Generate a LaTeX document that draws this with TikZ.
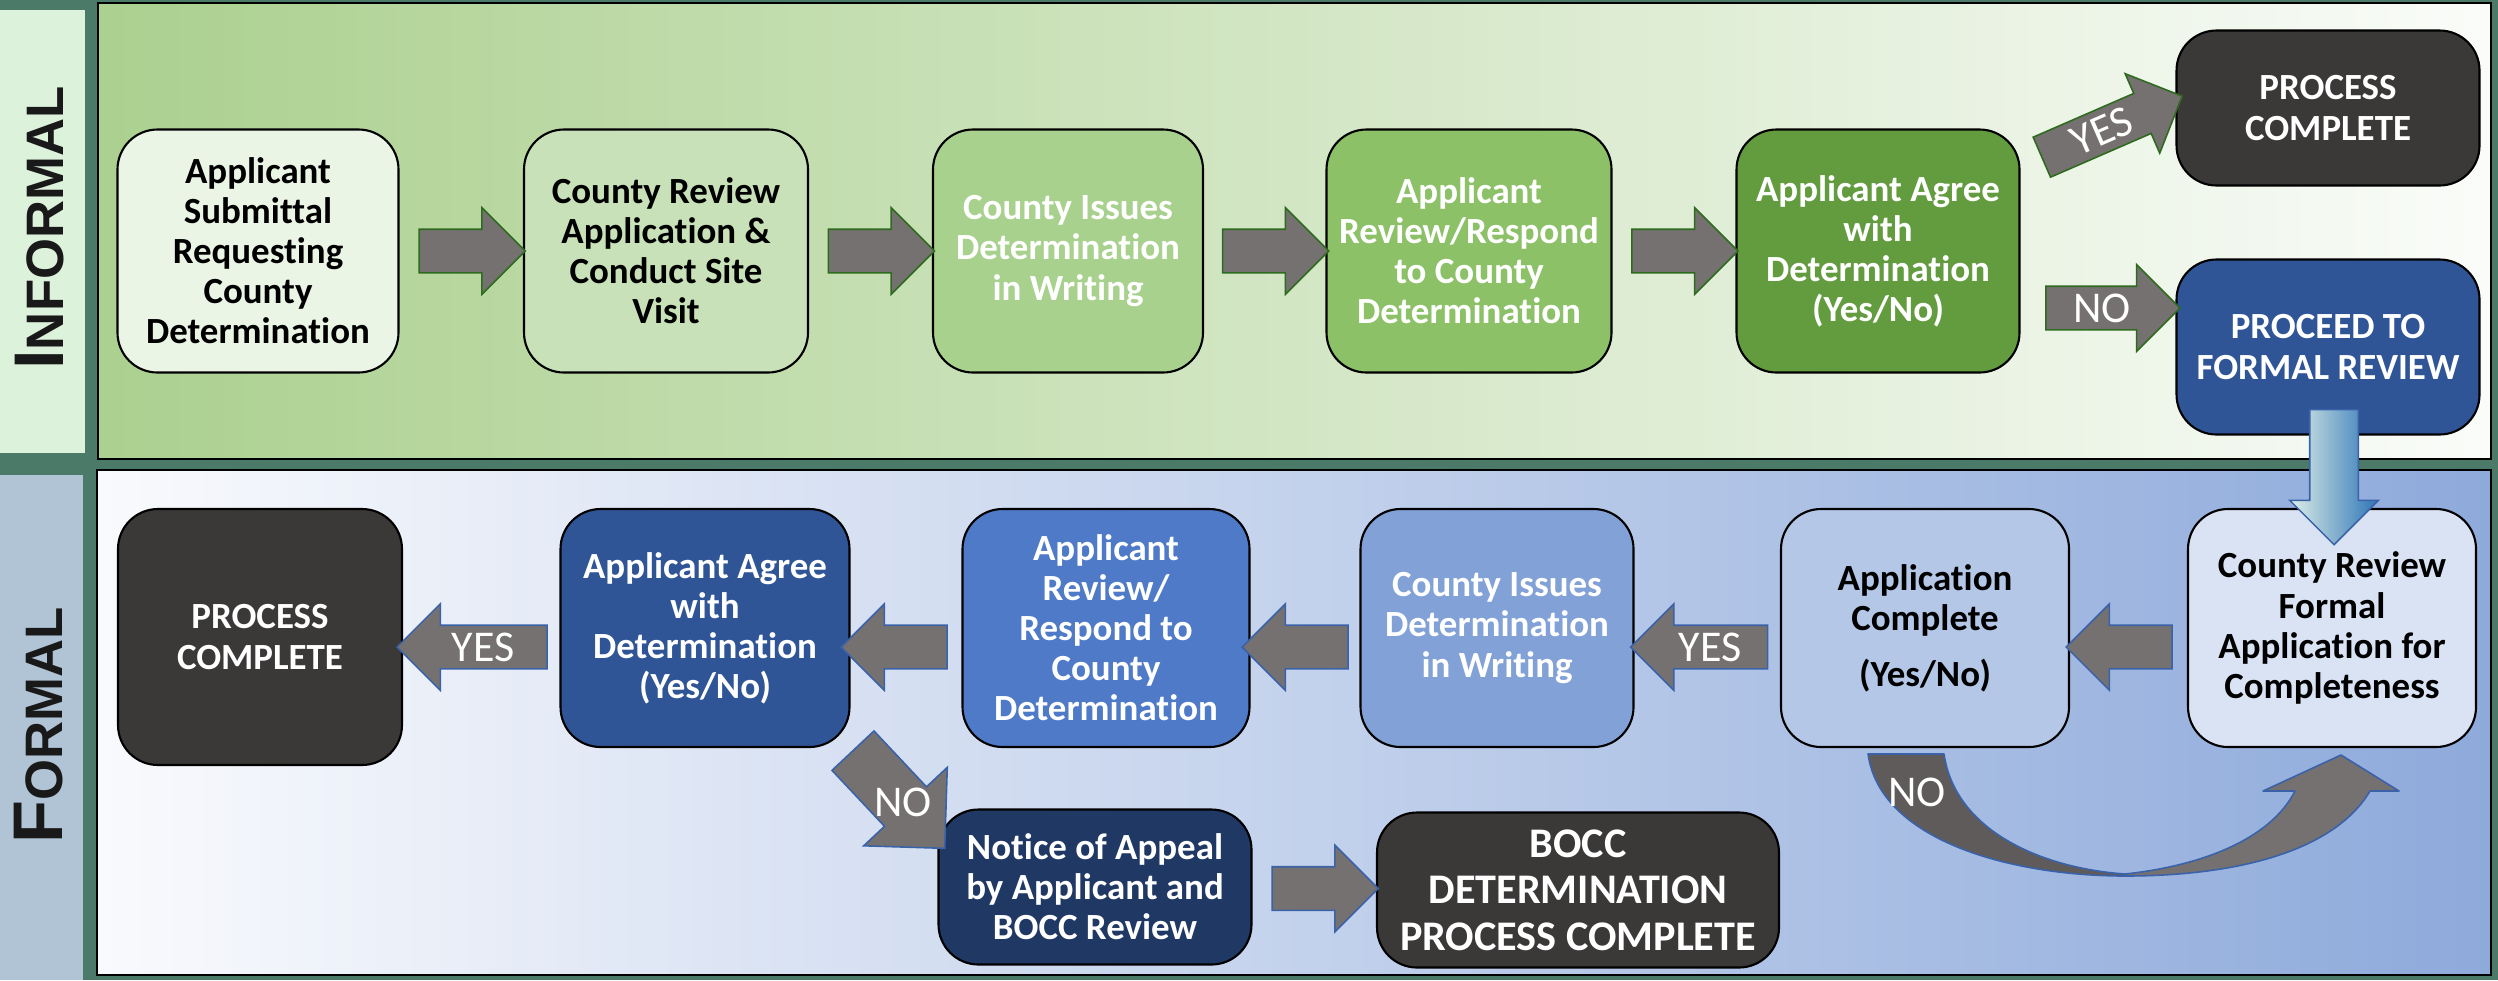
\documentclass[tikz,border=0pt]{standalone}
\usepackage{fontspec}
\setmainfont{Carlito}[Ligatures=NoCommon]
\newfontfamily\tagfont{Liberation Sans}
\usetikzlibrary{shapes.arrows, calc, positioning}

\definecolor{gapgreen}{HTML}{4B7A68}
\definecolor{bandgreen}{HTML}{DCF2DA}
\definecolor{bandblue}{HTML}{B0C4D6}
\definecolor{infleft}{HTML}{ABD08F}
\definecolor{infright}{HTML}{FAFCF9}
\definecolor{forleft}{HTML}{F9FAFD}
\definecolor{forright}{HTML}{8EAADB}
\definecolor{csubmit}{HTML}{EBF5E6}
\definecolor{creview}{HTML}{C8E1B8}
\definecolor{cissue}{HTML}{A9D18E}
\definecolor{crespond}{HTML}{8CC168}
\definecolor{cagree}{HTML}{629C3F}
\definecolor{cdone}{HTML}{3B3838}
\definecolor{cproceed}{HTML}{2F5597}
\definecolor{fcreview}{HTML}{DAE3F3}
\definecolor{fccomplete}{HTML}{B4C7E7}
\definecolor{fcissue}{HTML}{82A1D6}
\definecolor{fcrespond}{HTML}{4E7AC7}
\definecolor{fcappeal}{HTML}{203864}
\definecolor{arrgray}{HTML}{767171}
\definecolor{arrdark}{HTML}{5F5B5B}
\definecolor{arrgreen}{HTML}{2E6B1F}
\definecolor{arrblue}{HTML}{3A62A8}
\definecolor{gradtop}{HTML}{DDEEE8}
\definecolor{gradbot}{HTML}{2E75B6}

\newcommand{\boxfont}{\fontsize{10.5}{11.4}\selectfont\bfseries}
\newcommand{\bigboxfont}{\fontsize{12}{13.2}\selectfont\bfseries}
\newcommand{\lblfont}{\fontsize{12.5}{13}\selectfont}

\tikzset{
  box/.style={draw=black, line width=0.6pt, rounded corners=4mm, align=center,
    inner sep=1mm, font=\boxfont, minimum height=24.3mm},
  wbox/.style={box, text=white},
  barrow/.style={single arrow, line width=0.45pt, fill=arrgray, text=white,
    single arrow head extend=2.15mm, single arrow tip angle=90,
    minimum width=8.5mm, minimum height=10.6mm, inner sep=0pt,
    text height=3.5mm, text depth=0.7mm, font=\lblfont},
  grnarrow/.style={barrow, draw=arrgreen},
  bluarrow/.style={barrow, draw=arrblue},
  lbl/.style={text=white, font=\lblfont, inner sep=0pt},
}

\begin{document}
\begin{tikzpicture}[x=0.1mm, y=-0.1mm]
    \useasboundingbox (0,0) rectangle (2498,980);

    % Hintergrund und Felder
    \fill[gapgreen] (0,0) rectangle (2498,980);
    \fill[bandgreen] (0,10) rectangle (85,453);
    \fill[bandblue] (0,475) rectangle (83,980);
    \shade[draw=black, line width=0.5pt, left color=infleft, right color=infright] (98,3) rectangle (2491,459);
    \shade[draw=black, line width=0.5pt, left color=forleft, right color=forright] (97,470) rectangle (2491,975);

    \node[rotate=90, font=\tagfont\bfseries, text=black!90] (informal) at (40,228)
        {{\fontsize{20}{20}\selectfont I}{\fontsize{15}{15}\selectfont NFORMAL}};
    \node[rotate=90, font=\tagfont\bfseries, text=black!90] (formal) at (39,725)
        {{\fontsize{20}{20}\selectfont F}{\fontsize{15}{15}\selectfont ORMAL}};

    % informelle Pruefung
    \node[box, fill=csubmit, minimum width=28.1mm] (isubmit) at (258,251) {Applicant\\Submittal\\Requesting\\County\\Determination};
    \node[box, fill=creview, minimum width=28.4mm] (ireview) at (666,251) {County Review\\Application \&\\Conduct Site\\Visit};
    \node[wbox, fill=cissue, minimum width=27mm] (iissue) at (1068,251) {County Issues\\Determination\\in Writing};
    \node[wbox, fill=crespond, minimum width=28.5mm] (irespond) at (1469,251) {Applicant\\Review/Respond\\to County\\Determination};
    \node[wbox, fill=cagree, minimum width=28.3mm] (iagree) at (1878,251) {Applicant Agree\\with\\Determination\\(Yes/No)};
    \node[wbox, fill=cdone, minimum width=30.3mm, minimum height=15.5mm] (idone) at (2328,108) {PROCESS\\COMPLETE};
    \node[wbox, fill=cproceed, minimum width=30.3mm, minimum height=17.5mm] (iproceed) at (2328,347) {PROCEED TO\\FORMAL REVIEW};

    \node[grnarrow] (ia1) at ($(isubmit.east)!.5!(ireview.west)$) {};
    \node[grnarrow] (ia2) at ($(ireview.east)!.5!(iissue.west)$) {};
    \node[grnarrow] (ia3) at ($(iissue.east)!.5!(irespond.west)$) {};
    \node[grnarrow] (ia4) at ($(irespond.east)!.5!(iagree.west)$) {};
    \node[grnarrow, minimum height=15.3mm, rotate=23.5] (iyes) at (2102,131) {YES};
    \node[grnarrow, minimum height=13.4mm] (ino) at (2102,308) {NO};

    % formelle Pruefung
    \node[box, fill=fcreview, minimum width=28.8mm, minimum height=23.8mm] (freview) at (2332,628) {County Review\\Formal\\Application for\\Completeness};
    \node[box, fill=fccomplete, minimum width=28.8mm, minimum height=23.8mm] (fcomplete) at (1925,628) {Application\\Complete\\[1.6mm](Yes/No)};
    \node[wbox, fill=fcissue, minimum width=27.3mm, minimum height=23.8mm] (fissue) at (1497,628) {County Issues\\Determination\\in Writing};
    \node[wbox, fill=fcrespond, minimum width=28.7mm, minimum height=23.8mm] (frespond) at (1106,628) {Applicant\\Review/\\Respond to\\County\\Determination};
    \node[wbox, fill=cproceed, minimum width=28.9mm, minimum height=23.8mm] (fagree) at (705,628) {Applicant Agree\\with\\Determination\\(Yes/No)};
    \node[wbox, fill=cdone, minimum width=28.4mm, minimum height=25.6mm] (fdone) at (260,637) {PROCESS\\COMPLETE};
    \node[wbox, fill=fcappeal, minimum width=31.3mm, minimum height=15.5mm] (fappeal) at (1095,887) {Notice of Appeal\\by Applicant and\\BOCC Review};
    \node[wbox, fill=cdone, minimum width=40.2mm, minimum height=15.5mm, font=\bigboxfont] (fbocc) at (1578,890) {BOCC\\DETERMINATION\\PROCESS COMPLETE};

    \node[single arrow, rotate=-90, draw=arrblue, line width=0.45pt, left color=gradtop, right color=gradbot,
        single arrow head extend=2mm, single arrow tip angle=90, minimum width=8.7mm, minimum height=13.5mm,
        inner sep=0pt, text height=2.35mm, text depth=2.35mm] (fdown) at (2334,465) {};

    \node[bluarrow, shape border rotate=180] (fa1) at (2130,647) {};
    \node[bluarrow, shape border rotate=180, minimum height=13.7mm] (fyes1) at (1710,647) {YES};
    \node[bluarrow, shape border rotate=180] (fa2) at (1306,647) {};
    \node[bluarrow, shape border rotate=180] (fa3) at (905,647) {};
    \node[bluarrow, shape border rotate=180, minimum height=15mm] (fyes2) at (483,647) {YES};
    \node[bluarrow] (fa4) at ($(fappeal.east)!.5!(fbocc.west)$) {};

    \node[bluarrow, rotate=-46.8, single arrow head extend=2.85mm, minimum width=11.3mm, minimum height=13.4mm,
        text height=2.8mm, text depth=2.8mm] (fno) at (889,789) {};
    \node[lbl] (fnotext) at (903,802) {NO};

    % Bogen zurueck zur Pruefung
    \fill[arrdark] (1868,754) .. controls (1880,840) and (2010,876) .. (2125,876)
        -- (2125,874) .. controls (2040,868) and (1955,830) .. (1944,754) -- cycle;
    \fill[arrgray] (2125,874) .. controls (2200,866) and (2270,840) .. (2295,791) -- (2263,791) -- (2341,755)
        -- (2399,791) -- (2370,791) .. controls (2335,850) and (2240,876) .. (2125,876) -- cycle;
    \draw[arrblue, line width=0.45pt, line join=round] (1868,754) -- (1944,754)
        .. controls (1955,830) and (2040,868) .. (2125,874)
        .. controls (2200,866) and (2270,840) .. (2295,791) -- (2263,791) -- (2341,755) -- (2399,791) -- (2370,791)
        .. controls (2335,850) and (2240,876) .. (2125,876)
        .. controls (2010,876) and (1880,840) .. (1868,754) -- cycle;
    \node[lbl] (fnocurve) at (1917,792) {NO};
\end{tikzpicture}
\end{document}
